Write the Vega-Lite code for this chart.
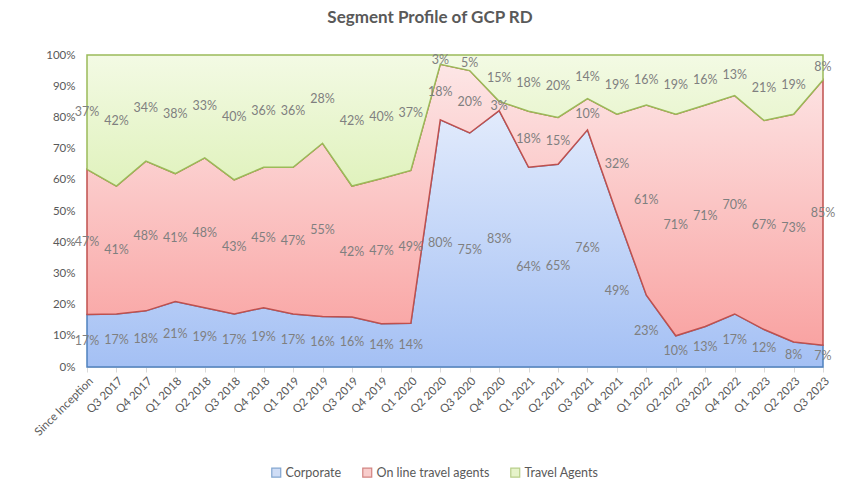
{
  "$schema": "https://vega.github.io/schema/vega-lite/v6.json",
  "autosize": "none",
  "width": 736,
  "height": 312,
  "padding": {"left": 87, "top": 55, "right": 44, "bottom": 122},
  "background": "white",
  "config": {"view": {"stroke": null}, "font": "Lato"},
  "title": {"text": "Segment Profile  of GCP RD", "fontSize": 17, "fontWeight": "bold", "color": "#595959", "font": "Lato", "offset": 22, "dx": -25},
  "datasets": {
    "rows": [
      {"q": "Since Inception", "series": "Corporate", "value": 0.17}, {"q": "Since Inception", "series": "On line travel agents", "value": 0.47}, {"q": "Since Inception", "series": "Travel Agents", "value": 0.37},
      {"q": "Q3 2017", "series": "Corporate", "value": 0.17}, {"q": "Q3 2017", "series": "On line travel agents", "value": 0.41}, {"q": "Q3 2017", "series": "Travel Agents", "value": 0.42},
      {"q": "Q4 2017", "series": "Corporate", "value": 0.18}, {"q": "Q4 2017", "series": "On line travel agents", "value": 0.48}, {"q": "Q4 2017", "series": "Travel Agents", "value": 0.34},
      {"q": "Q1 2018", "series": "Corporate", "value": 0.21}, {"q": "Q1 2018", "series": "On line travel agents", "value": 0.41}, {"q": "Q1 2018", "series": "Travel Agents", "value": 0.38},
      {"q": "Q2 2018", "series": "Corporate", "value": 0.19}, {"q": "Q2 2018", "series": "On line travel agents", "value": 0.48}, {"q": "Q2 2018", "series": "Travel Agents", "value": 0.33},
      {"q": "Q3 2018", "series": "Corporate", "value": 0.17}, {"q": "Q3 2018", "series": "On line travel agents", "value": 0.43}, {"q": "Q3 2018", "series": "Travel Agents", "value": 0.40},
      {"q": "Q4 2018", "series": "Corporate", "value": 0.19}, {"q": "Q4 2018", "series": "On line travel agents", "value": 0.45}, {"q": "Q4 2018", "series": "Travel Agents", "value": 0.36},
      {"q": "Q1 2019", "series": "Corporate", "value": 0.17}, {"q": "Q1 2019", "series": "On line travel agents", "value": 0.47}, {"q": "Q1 2019", "series": "Travel Agents", "value": 0.36},
      {"q": "Q2 2019", "series": "Corporate", "value": 0.16}, {"q": "Q2 2019", "series": "On line travel agents", "value": 0.55}, {"q": "Q2 2019", "series": "Travel Agents", "value": 0.28},
      {"q": "Q3 2019", "series": "Corporate", "value": 0.16}, {"q": "Q3 2019", "series": "On line travel agents", "value": 0.42}, {"q": "Q3 2019", "series": "Travel Agents", "value": 0.42},
      {"q": "Q4 2019", "series": "Corporate", "value": 0.14}, {"q": "Q4 2019", "series": "On line travel agents", "value": 0.47}, {"q": "Q4 2019", "series": "Travel Agents", "value": 0.40},
      {"q": "Q1 2020", "series": "Corporate", "value": 0.14}, {"q": "Q1 2020", "series": "On line travel agents", "value": 0.49}, {"q": "Q1 2020", "series": "Travel Agents", "value": 0.37},
      {"q": "Q2 2020", "series": "Corporate", "value": 0.80}, {"q": "Q2 2020", "series": "On line travel agents", "value": 0.18}, {"q": "Q2 2020", "series": "Travel Agents", "value": 0.03},
      {"q": "Q3 2020", "series": "Corporate", "value": 0.75}, {"q": "Q3 2020", "series": "On line travel agents", "value": 0.20}, {"q": "Q3 2020", "series": "Travel Agents", "value": 0.05},
      {"q": "Q4 2020", "series": "Corporate", "value": 0.83}, {"q": "Q4 2020", "series": "On line travel agents", "value": 0.03}, {"q": "Q4 2020", "series": "Travel Agents", "value": 0.15},
      {"q": "Q1 2021", "series": "Corporate", "value": 0.64}, {"q": "Q1 2021", "series": "On line travel agents", "value": 0.18}, {"q": "Q1 2021", "series": "Travel Agents", "value": 0.18},
      {"q": "Q2 2021", "series": "Corporate", "value": 0.65}, {"q": "Q2 2021", "series": "On line travel agents", "value": 0.15}, {"q": "Q2 2021", "series": "Travel Agents", "value": 0.20},
      {"q": "Q3 2021", "series": "Corporate", "value": 0.76}, {"q": "Q3 2021", "series": "On line travel agents", "value": 0.10}, {"q": "Q3 2021", "series": "Travel Agents", "value": 0.14},
      {"q": "Q4 2021", "series": "Corporate", "value": 0.49}, {"q": "Q4 2021", "series": "On line travel agents", "value": 0.32}, {"q": "Q4 2021", "series": "Travel Agents", "value": 0.19},
      {"q": "Q1 2022", "series": "Corporate", "value": 0.23}, {"q": "Q1 2022", "series": "On line travel agents", "value": 0.61}, {"q": "Q1 2022", "series": "Travel Agents", "value": 0.16},
      {"q": "Q2 2022", "series": "Corporate", "value": 0.10}, {"q": "Q2 2022", "series": "On line travel agents", "value": 0.71}, {"q": "Q2 2022", "series": "Travel Agents", "value": 0.19},
      {"q": "Q3 2022", "series": "Corporate", "value": 0.13}, {"q": "Q3 2022", "series": "On line travel agents", "value": 0.71}, {"q": "Q3 2022", "series": "Travel Agents", "value": 0.16},
      {"q": "Q4 2022", "series": "Corporate", "value": 0.17}, {"q": "Q4 2022", "series": "On line travel agents", "value": 0.70}, {"q": "Q4 2022", "series": "Travel Agents", "value": 0.13},
      {"q": "Q1 2023", "series": "Corporate", "value": 0.12}, {"q": "Q1 2023", "series": "On line travel agents", "value": 0.67}, {"q": "Q1 2023", "series": "Travel Agents", "value": 0.21},
      {"q": "Q2 2023", "series": "Corporate", "value": 0.08}, {"q": "Q2 2023", "series": "On line travel agents", "value": 0.73}, {"q": "Q2 2023", "series": "Travel Agents", "value": 0.19},
      {"q": "Q3 2023", "series": "Corporate", "value": 0.07}, {"q": "Q3 2023", "series": "On line travel agents", "value": 0.85}, {"q": "Q3 2023", "series": "Travel Agents", "value": 0.08}
    ]
  },
  "data": {"name": "rows"},
  "transform": [
    {"stack": "value", "groupby": ["q"], "offset": "normalize", "sort": [{"field": "series", "order": "ascending"}], "as": ["y0", "y1"]},
    {"calculate": "(datum.y0 + datum.y1) / 2", "as": "ymid"}
  ],
  "resolve": {"axis": {"y": "independent"}},
  "encoding": {
    "x": {
      "field": "q", "type": "nominal",
      "sort": ["Since Inception", "Q3 2017", "Q4 2017", "Q1 2018", "Q2 2018", "Q3 2018", "Q4 2018", "Q1 2019", "Q2 2019", "Q3 2019", "Q4 2019", "Q1 2020", "Q2 2020", "Q3 2020", "Q4 2020", "Q1 2021", "Q2 2021", "Q3 2021", "Q4 2021", "Q1 2022", "Q2 2022", "Q3 2022", "Q4 2022", "Q1 2023", "Q2 2023", "Q3 2023"],
      "scale": {"type": "point", "padding": 0},
      "axis": {"title": null, "labelAngle": -45, "labelFontSize": 11.5, "labelColor": "#595959", "labelFont": "Lato", "domainColor": "#d9d9d9", "tickColor": "#d9d9d9", "tickSize": 5, "labelPadding": 3, "grid": false, "labelOverlap": false}
    }
  },
  "layer": [
    {
      "transform": [{"filter": "datum.series === 'Corporate'"}],
      "mark": {"type": "area", "stroke": "#4f81bd", "strokeWidth": 1.5,
        "fill": {"gradient": "linear", "x1": 0, "y1": 0, "x2": 0, "y2": 1, "stops": [{"offset": 0, "color": "#e2ebfc"}, {"offset": 1, "color": "#a4c0f4"}]}},
      "encoding": {
        "y": {"field": "y0", "type": "quantitative", "scale": {"domain": [0, 1], "nice": false},
          "axis": {"title": null, "format": ".0%", "values": [0, 0.1, 0.2, 0.3, 0.4, 0.5, 0.6, 0.7, 0.8, 0.9, 1], "labelOverlap": false, "labelFontSize": 11.5, "labelColor": "#595959", "labelFont": "Lato", "domain": false, "ticks": false, "grid": false, "labelPadding": 12}},
        "y2": {"field": "y1"}
      }
    },
    {
      "transform": [{"filter": "datum.series === 'On line travel agents'"}],
      "mark": {"type": "area", "stroke": "#c0504d", "strokeWidth": 1.5,
        "fill": {"gradient": "linear", "x1": 0, "y1": 0, "x2": 0, "y2": 1, "stops": [{"offset": 0, "color": "#fde6e6"}, {"offset": 1, "color": "#f9a3a2"}]}},
      "encoding": {"y": {"field": "y0", "type": "quantitative", "axis": null}, "y2": {"field": "y1"}}
    },
    {
      "transform": [{"filter": "datum.series === 'Travel Agents'"}],
      "mark": {"type": "area", "stroke": "#9bbb59", "strokeWidth": 1.5,
        "fill": {"gradient": "linear", "x1": 0, "y1": 0, "x2": 0, "y2": 1, "stops": [{"offset": 0, "color": "#f3fae4"}, {"offset": 1, "color": "#e0f2bd"}]}},
      "encoding": {"y": {"field": "y0", "type": "quantitative", "axis": null}, "y2": {"field": "y1"}}
    },
    {
      "mark": {"type": "text", "fontSize": 12.5, "color": "#7f7f7f", "font": "Lato"},
      "encoding": {
        "y": {"field": "ymid", "type": "quantitative", "axis": null},
        "text": {"field": "value", "type": "quantitative", "format": ".0%"}
      }
    },
    {
      "mark": {"type": "point", "shape": "square", "filled": true, "size": 0, "strokeWidth": 1},
      "encoding": {
        "y": {"field": "ymid", "type": "quantitative", "axis": null},
        "fill": {"field": "series", "type": "nominal",
          "scale": {"domain": ["Corporate", "On line travel agents", "Travel Agents"], "range": ["#bcd0f3", "#f6b8b7", "#dcefb5"]},
          "legend": {"title": null, "orient": "none", "legendX": 183, "legendY": 411, "direction": "horizontal", "symbolType": "square", "symbolSize": 80, "symbolStrokeWidth": 1.2, "labelFontSize": 12.5, "labelColor": "#595959", "labelFont": "Lato", "columnPadding": 18, "labelOffset": 3}},
        "stroke": {"field": "series", "type": "nominal",
          "scale": {"domain": ["Corporate", "On line travel agents", "Travel Agents"], "range": ["#4f81bd", "#c0504d", "#9bbb59"]},
          "legend": null}
      }
    }
  ]
}
